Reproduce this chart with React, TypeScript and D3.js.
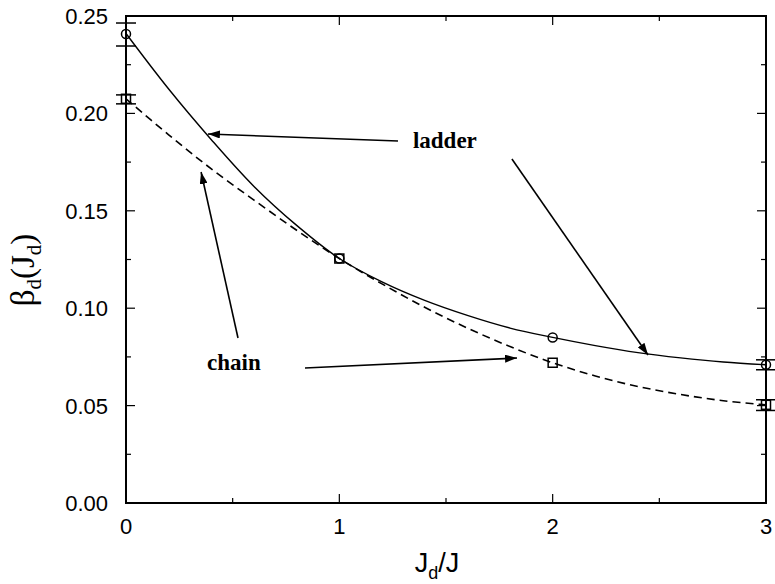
import React, { useEffect, useRef } from "react";
import * as d3 from "d3";

// values
const xs = [0, 0.2, 0.4, 0.6, 0.8, 1.0, 1.2, 1.4, 1.6, 1.8, 2.0, 2.2, 2.4, 2.6, 2.8, 3.0];
const ladderCurve = [0.241, 0.2125, 0.1865, 0.1625, 0.1425, 0.1255, 0.1135, 0.104, 0.0963, 0.0898, 0.085, 0.0808, 0.0772, 0.0745, 0.0724, 0.071];
const chainCurve = [0.2075, 0.189, 0.1715, 0.1555, 0.14, 0.1255, 0.1125, 0.1005, 0.0898, 0.0803, 0.072, 0.0652, 0.0598, 0.0557, 0.0525, 0.0504];

const pointX = [0, 1, 2, 3];
const ladderPts = [0.2408, 0.1255, 0.085, 0.071];
const chainPts = [0.2075, 0.1255, 0.072, 0.0504];

// error bars: [x, low, high]
const ladderErr = [[0, 0.2346, 0.2464], [3, 0.0684, 0.0735]];
const chainErr = [[0, 0.2049, 0.2095], [3, 0.0475, 0.053]];

const xTicks = [0, 1, 2, 3];
const yTicks = [0, 0.05, 0.1, 0.15, 0.2, 0.25];

// annotations: [x1, y1, x2, y2] in data units, arrow head at end
const arrows = [
  [1.275, 0.1858, 0.384, 0.1894],
  [1.809, 0.1766, 2.447, 0.076],
  [0.525, 0.0847, 0.352, 0.1699],
  [0.839, 0.0693, 1.833, 0.0744],
];
const labels = [
  { text: "ladder", x: 1.345, y: 0.1822 },
  { text: "chain", x: 0.38, y: 0.0683 },
];

export default function App() {
  const ref = useRef<SVGSVGElement>(null);

  useEffect(() => {
    const svg = d3.select(ref.current);
    svg.selectAll("*").remove();

    const x = d3.scaleLinear().domain([0, 3]).range([126, 766]);
    const y = d3.scaleLinear().domain([0, 0.25]).range([503, 16]);

    svg.append("defs")
      .append("marker")
      .attr("id", "head")
      .attr("viewBox", "0 0 12 8")
      .attr("refX", 12)
      .attr("refY", 4)
      .attr("markerWidth", 12)
      .attr("markerHeight", 8)
      .attr("markerUnits", "userSpaceOnUse")
      .attr("orient", "auto")
      .append("path")
      .attr("d", "M0,0 L12,4 L0,8 Z")
      .attr("fill", "#000");

    // frame
    svg.append("rect")
      .attr("x", x(0))
      .attr("y", y(0.25))
      .attr("width", x(3) - x(0))
      .attr("height", y(0) - y(0.25))
      .attr("fill", "none")
      .attr("stroke", "#000")
      .attr("stroke-width", 2);

    const tickG = svg.append("g").attr("stroke", "#000").attr("stroke-width", 1.2);
    d3.range(0, 3.01, 0.5).forEach((v) => {
      const len = Number.isInteger(v) ? 9 : 5;
      tickG.append("line").attr("x1", x(v)).attr("x2", x(v)).attr("y1", y(0)).attr("y2", y(0) - len);
      tickG.append("line").attr("x1", x(v)).attr("x2", x(v)).attr("y1", y(0.25)).attr("y2", y(0.25) + len);
    });
    d3.range(0, 0.2501, 0.025).forEach((v) => {
      const len = Math.round(v * 1000) % 50 === 0 ? 9 : 5;
      tickG.append("line").attr("x1", x(0)).attr("x2", x(0) + len).attr("y1", y(v)).attr("y2", y(v));
      tickG.append("line").attr("x1", x(3)).attr("x2", x(3) - len).attr("y1", y(v)).attr("y2", y(v));
    });

    const tickFont = "'Liberation Sans', Arial, Helvetica, sans-serif";
    svg.append("g")
      .selectAll("text")
      .data(xTicks)
      .enter()
      .append("text")
      .attr("x", (d) => x(d))
      .attr("y", 534)
      .attr("text-anchor", "middle")
      .attr("font-family", tickFont)
      .attr("font-size", 22)
      .text((d) => d);

    svg.append("g")
      .selectAll("text")
      .data(yTicks)
      .enter()
      .append("text")
      .attr("x", 108)
      .attr("y", (d) => y(d) + 8)
      .attr("text-anchor", "end")
      .attr("font-family", tickFont)
      .attr("font-size", 22)
      .text((d) => d3.format(".2f")(d));

    // axis titles
    const xl = svg.append("text")
      .attr("x", 437)
      .attr("y", 572)
      .attr("text-anchor", "middle")
      .attr("font-family", tickFont)
      .attr("font-size", 27);
    xl.append("tspan").text("J");
    xl.append("tspan").attr("font-size", 18).attr("dy", 7).text("d");
    xl.append("tspan").attr("dy", -7).text("/J");

    const yl = svg.append("text")
      .attr("transform", "translate(34,270) rotate(-90)")
      .attr("text-anchor", "middle")
      .attr("font-family", "'Liberation Serif', 'Times New Roman', serif")
      .attr("font-size", 33);
    yl.append("tspan").text("β");
    yl.append("tspan").attr("font-size", 21).attr("dy", 7).text("d");
    yl.append("tspan").attr("dy", -7).text("(J");
    yl.append("tspan").attr("font-size", 21).attr("dy", 7).text("d");
    yl.append("tspan").attr("dy", -7).text(")");

    const line = d3.line<number>()
      .x((d, i) => x(xs[i]))
      .y((d) => y(d))
      .curve(d3.curveCatmullRom);

    svg.append("path")
      .datum(ladderCurve)
      .attr("fill", "none")
      .attr("stroke", "#000")
      .attr("stroke-width", 1.4)
      .attr("d", line);

    svg.append("path")
      .datum(chainCurve)
      .attr("fill", "none")
      .attr("stroke", "#000")
      .attr("stroke-width", 1.6)
      .attr("stroke-dasharray", "8,5")
      .attr("d", line);

    const errG = svg.append("g").attr("stroke", "#000").attr("stroke-width", 1.5);
    [...ladderErr, ...chainErr].forEach(([px, lo, hi]) => {
      errG.append("line").attr("x1", x(px)).attr("x2", x(px)).attr("y1", y(lo)).attr("y2", y(hi));
      errG.append("line").attr("x1", x(px) - 10).attr("x2", x(px) + 10).attr("y1", y(lo)).attr("y2", y(lo));
      errG.append("line").attr("x1", x(px) - 10).attr("x2", x(px) + 10).attr("y1", y(hi)).attr("y2", y(hi));
    });

    svg.append("g")
      .selectAll("circle")
      .data(ladderPts)
      .enter()
      .append("circle")
      .attr("cx", (d, i) => x(pointX[i]))
      .attr("cy", (d) => y(d))
      .attr("r", 4.5)
      .attr("fill", "none")
      .attr("stroke", "#000")
      .attr("stroke-width", 1.5);

    svg.append("g")
      .selectAll("rect")
      .data(chainPts)
      .enter()
      .append("rect")
      .attr("x", (d, i) => x(pointX[i]) - 4.5)
      .attr("y", (d) => y(d) - 4.5)
      .attr("width", 9)
      .attr("height", 9)
      .attr("fill", "none")
      .attr("stroke", "#000")
      .attr("stroke-width", 1.5);

    svg.append("g")
      .selectAll("line")
      .data(arrows)
      .enter()
      .append("line")
      .attr("x1", (d) => x(d[0]))
      .attr("y1", (d) => y(d[1]))
      .attr("x2", (d) => x(d[2]))
      .attr("y2", (d) => y(d[3]))
      .attr("stroke", "#000")
      .attr("stroke-width", 1.6)
      .attr("marker-end", "url(#head)");

    svg.append("g")
      .selectAll("text")
      .data(labels)
      .enter()
      .append("text")
      .attr("x", (d) => x(d.x))
      .attr("y", (d) => y(d.y))
      .attr("font-family", "'Liberation Serif', 'Times New Roman', serif")
      .attr("font-weight", "bold")
      .attr("font-size", 23)
      .text((d) => d.text);
  }, []);

  return (
    <div style={{ position: "absolute", left: 0, top: 0 }}>
      <svg ref={ref} width={775} height={584} style={{ display: "block", background: "#fff" }}></svg>
    </div>
  );
}
